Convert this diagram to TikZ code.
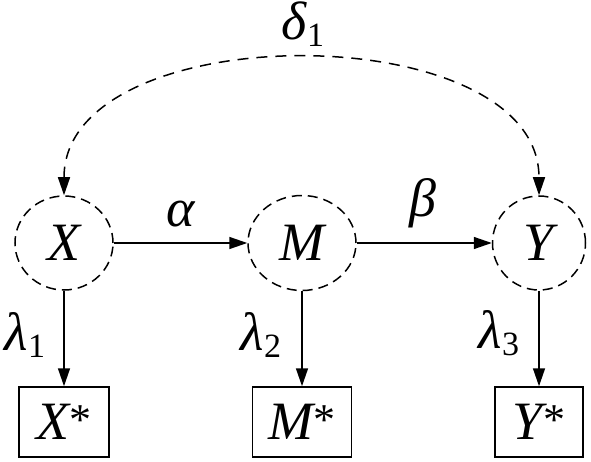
\documentclass[tikz,border=0pt]{standalone}
\usepackage{fontspec}
\setmainfont{Liberation Serif}
\usetikzlibrary{arrows.meta,shapes.geometric}
\newcommand\lsub[1]{\raisebox{-7pt}{\fontsize{34}{34}\selectfont\upshape #1}}
\newcommand\stary{\raisebox{5pt}{\fontsize{44}{44}\selectfont\upshape *}}
\begin{document}
\begin{tikzpicture}[x=1pt,y=-1pt,
  every node/.style={font=\fontsize{54}{54}\selectfont\itshape},
  latent/.style={draw, ellipse, dash pattern=on 10pt off 6pt, line width=1.5pt, inner sep=0pt},
  obs/.style={draw, rectangle, line width=1.5pt, inner sep=0pt, minimum height=70pt},
  tip/.style={-{Triangle[length=18pt,width=12pt]}},
  pathe/.style={line width=1.5pt, tip},
  cov/.style={line width=1.5pt, dash pattern=on 11pt off 8pt, {Triangle[length=18pt,width=12pt]}-{Triangle[length=18pt,width=12pt]}},
  lbl/.style={anchor=base, inner sep=0pt}]
\useasboundingbox (0,0) rectangle (591,462);
\node[latent, minimum width=98pt, minimum height=94pt] (X) at (64,243) {X};
\node[latent, minimum width=108pt, minimum height=95pt] (M) at (302,243) {M};
\node[latent, minimum width=93pt, minimum height=94pt] (Y) at (539,243) {Y};
\node[obs, minimum width=90pt] (Xs) at (64,422) {X\stary};
\node[obs, minimum width=99pt] (Ms) at (302,422) {M\stary};
\node[obs, minimum width=88pt] (Ys) at (539,422) {Y\stary};
\draw[pathe] (X) -- (M);
\draw[pathe] (M) -- (Y);
\draw[pathe] (X) -- (Xs);
\draw[pathe] (M) -- (Ms);
\draw[pathe] (Y) -- (Ys);
\draw[cov] (X.north) .. controls (64,15) and (539,15) .. (Y.north);
\node[lbl] (a) at (181,226) {α};
\node[lbl] (b) at (423,217) {β};
\node[lbl] (d) at (303,40) {δ\lsub{1}};
\node[lbl] (l1) at (25,350) {λ\lsub{1}};
\node[lbl] (l2) at (261,350) {λ\lsub{2}};
\node[lbl] (l3) at (499,348) {λ\lsub{3}};
\end{tikzpicture}
\end{document}
